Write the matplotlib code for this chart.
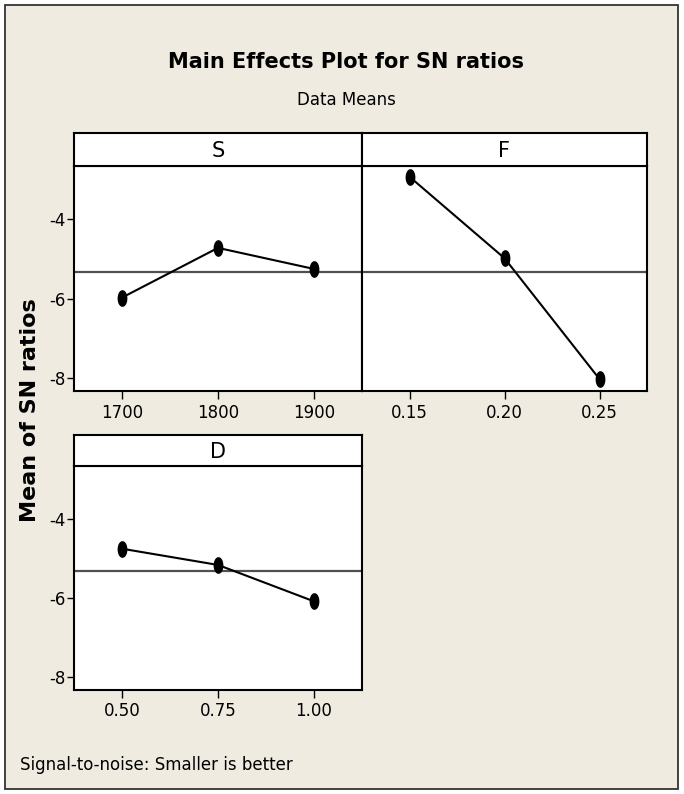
import numpy as np
import matplotlib.pyplot as plt
from matplotlib.patches import Rectangle
from matplotlib.path import Path

# factor levels and mean SN ratios
s_levels = [1700, 1800, 1900]
s_means = [-5.97, -4.72, -5.25]
f_levels = [0.15, 0.20, 0.25]
f_means = [-2.93, -4.98, -8.02]
d_levels = [0.50, 0.75, 1.00]
d_means = [-4.75, -5.16, -6.08]
s_ticklabels = ["1700", "1800", "1900"]
f_ticklabels = ["0.15", "0.20", "0.25"]
d_ticklabels = ["0.50", "0.75", "1.00"]
y_ticks = [-4, -6, -8]

grand_mean = np.mean(s_means + f_means + d_means)

W, H = 684, 794
bg = "#efebe1"

fig = plt.figure(figsize=(W / 100, H / 100), dpi=100)
fig.patch.set_facecolor("white")
fig.patches.append(Rectangle((5 / W, 5 / H), 673 / W, 784 / H, transform=fig.transFigure,
                             facecolor=bg, edgecolor="#333333", linewidth=1.3, zorder=-10))

# ellipse marker like minitab's
t = np.linspace(0, 2 * np.pi, 40)
ell = Path(np.column_stack([0.55 * np.cos(t), np.sin(t)]), closed=True)


def px(x0, y0, x1, y1):
    # pixel box (top-left origin) -> figure fraction rect
    return [x0 / W, 1 - y1 / H, (x1 - x0) / W, (y1 - y0) / H]


def panel(box, hbox, name, levels, means, labels, show_y):
    ax = fig.add_axes(px(*box))
    ax.set_facecolor("white")
    step = levels[1] - levels[0]
    ax.set_xlim(levels[0] - step / 2, levels[-1] + step / 2)
    ax.set_ylim(-8.32, -2.66)
    ax.axhline(grand_mean, color="#505050", linewidth=1.6, zorder=1)
    ax.plot(levels, means, color="black", linewidth=1.5, marker=ell, markersize=11,
            markerfacecolor="black", markeredgecolor="black", zorder=3)
    ax.set_xticks(levels)
    ax.set_xticklabels(labels)
    ax.tick_params(axis="x", direction="out", length=6, width=1, labelsize=12, pad=3)
    if show_y:
        ax.set_yticks(y_ticks)
        ax.set_yticklabels([str(v) for v in y_ticks])
        ax.tick_params(axis="y", direction="out", length=5, width=1, labelsize=12, pad=1)
    else:
        ax.set_yticks([])
    for sp in ax.spines.values():
        sp.set_linewidth(1.5)
    hx = fig.add_axes(px(*hbox))
    hx.set_facecolor("white")
    hx.set_xticks([])
    hx.set_yticks([])
    for sp in hx.spines.values():
        sp.set_linewidth(1.5)
    hx.text(0.5, 0.45, name, ha="center", va="center", fontsize=15, transform=hx.transAxes)
    return ax


panel((74, 166, 362, 391), (74, 133, 362, 166), "S", s_levels, s_means, s_ticklabels, True)
panel((362, 166, 647, 391), (362, 133, 647, 166), "F", f_levels, f_means, f_ticklabels, False)
panel((74, 466, 362, 690), (74, 435, 362, 466), "D", d_levels, d_means, d_ticklabels, True)

fig.text(346 / W, 1 - 62 / H, "Main Effects Plot for SN ratios", ha="center", va="center",
         fontsize=15, fontweight="bold")
fig.text(346 / W, 1 - 100 / H, "Data Means", ha="center", va="center", fontsize=12)
fig.text(30 / W, 1 - 410 / H, "Mean of SN ratios", ha="center", va="center", rotation=90,
         fontsize=16, fontweight="bold")
fig.text(20 / W, 1 - 765 / H, "Signal-to-noise: Smaller is better", ha="left", va="center",
         fontsize=12)

fig.savefig("out.png", dpi=100, facecolor=fig.get_facecolor())
